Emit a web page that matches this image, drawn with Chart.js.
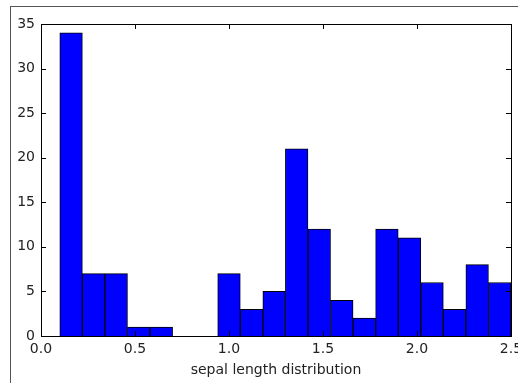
<!DOCTYPE html>
<html>
<head>
<meta charset="utf-8">
<script src="https://cdn.jsdelivr.net/npm/chart.js@4"></script>
<style>
  html, body { margin: 0; padding: 0; background: #fff; }
  #wrap { position: relative; width: 518px; height: 383px; }
  #frame { position: absolute; left: 10px; top: 6px; right: -2px; bottom: -2px;
           border-left: 1px solid #555; border-top: 1px solid #555; pointer-events: none; }
</style>
</head>
<body>
<div id="wrap">
  <canvas id="hist" width="518" height="383"></canvas>
  <div id="frame"></div>
</div>
<script>
// ── Data (histogram, 20 bins) ──
var binLefts = [0.10, 0.22, 0.34, 0.46, 0.58, 0.70, 0.82, 0.94, 1.06, 1.18,
                1.30, 1.42, 1.54, 1.66, 1.78, 1.90, 2.02, 2.14, 2.26, 2.38];
var binWidth = 0.12;
var counts = [34, 7, 7, 1, 1, 0, 0, 7, 3, 5, 21, 12, 4, 2, 12, 11, 6, 3, 8, 6];
var xTicks = [0.0, 0.5, 1.0, 1.5, 2.0, 2.5];
var yTicks = [0, 5, 10, 15, 20, 25, 30, 35];
var xLabel = "sepal length distribution";

var FONT = { family: "'DejaVu Sans', sans-serif", size: 14 };

// plot frame + inward ticks on all four sides
var frameTicks = {
  id: "frameTicks",
  afterDatasetsDraw: function (chart) {
    var ctx = chart.ctx, a = chart.chartArea;
    var xs = chart.scales.x, ys = chart.scales.y;
    var len = 5;
    ctx.save();
    ctx.strokeStyle = "#000";
    ctx.lineWidth = 1;
    ctx.beginPath();
    xTicks.forEach(function (v) {
      var px = Math.round(xs.getPixelForValue(v)) + 0.5;
      ctx.moveTo(px, a.bottom); ctx.lineTo(px, a.bottom - len);
      ctx.moveTo(px, a.top); ctx.lineTo(px, a.top + len);
    });
    yTicks.forEach(function (v) {
      var py = Math.round(ys.getPixelForValue(v)) + 0.5;
      ctx.moveTo(a.left, py); ctx.lineTo(a.left + len, py);
      ctx.moveTo(a.right, py); ctx.lineTo(a.right - len, py);
    });
    ctx.stroke();
    ctx.strokeRect(Math.round(a.left) + 0.5, Math.round(a.top) + 0.5,
                   Math.round(a.right - a.left), Math.round(a.bottom - a.top));
    ctx.restore();
  }
};

function main() {
  var ctx = document.getElementById("hist").getContext("2d");
  new Chart(ctx, {
    type: "bar",
    data: {
      datasets: [{
        data: binLefts.map(function (l, i) { return { x: l + binWidth / 2, y: counts[i] }; }),
        backgroundColor: "#0000ff",
        borderColor: "#000000",
        borderWidth: 1,
        barPercentage: 1,
        categoryPercentage: 1,
        grouped: false,
      }],
    },
    options: {
      responsive: false,
      animation: false,
      layout: { padding: { left: 0, top: 24, right: 7, bottom: 0 } },
      plugins: { legend: { display: false }, tooltip: { enabled: false } },
      scales: {
        x: {
          type: "linear",
          offset: false,
          min: 0, max: 2.5,
          afterBuildTicks: function (s) { s.ticks = xTicks.map(function (v) { return { value: v }; }); },
          afterFit: function (s) { s.height = 47; s.paddingLeft = 0; s.paddingRight = 0; },
          grid: { display: false, drawTicks: false, offset: false },
          border: { display: false },
          ticks: {
            padding: 5, color: "#222", font: FONT, maxRotation: 0, autoSkip: false,
            callback: function (v) { return Number(v).toFixed(1); },
          },
          title: { display: true, text: xLabel, color: "#222", font: FONT, padding: { top: 3 } },
        },
        y: {
          min: 0, max: 35,
          afterBuildTicks: function (s) { s.ticks = yTicks.map(function (v) { return { value: v }; }); },
          afterFit: function (s) { s.width = 41; s.paddingTop = 0; s.paddingBottom = 0; },
          grid: { display: false, drawTicks: false },
          border: { display: false },
          ticks: { padding: 6, color: "#222", font: FONT },
        },
      },
    },
    plugins: [frameTicks],
  });
}

document.addEventListener("DOMContentLoaded", main);
</script>
</body>
</html>
